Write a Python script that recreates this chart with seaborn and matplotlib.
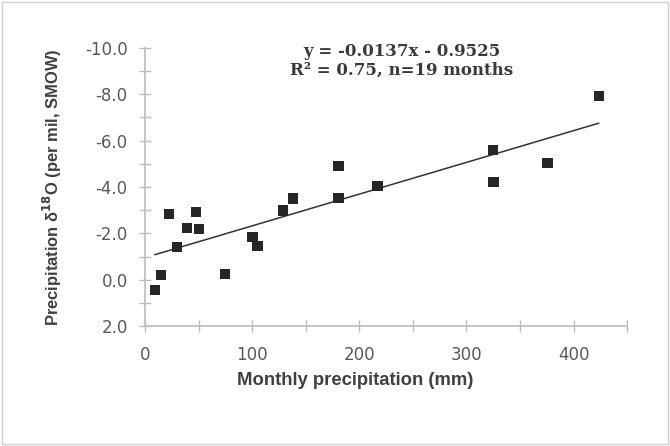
import numpy as np
import pandas as pd
import matplotlib
matplotlib.use('Agg')
import matplotlib.pyplot as plt
import seaborn as sns
from matplotlib.patches import Rectangle
from matplotlib.ticker import MultipleLocator, FormatStrFormatter

# Monthly precipitation (mm) and d18O of precipitation (per mil, SMOW)
precip_mm = [9.1, 14.7, 22.4, 29.6, 39.5, 47.4, 50.5, 74.8, 100.3, 105.0,
             129.0, 138.3, 180.7, 180.7, 217.0, 324.6, 325.2, 375.7, 423.6]
d18o = [0.45, -0.2, -2.82, -1.42, -2.22, -2.93, -2.19, -0.24, -1.83, -1.45,
        -2.98, -3.51, -4.91, -3.54, -4.04, -5.6, -4.23, -5.05, -7.93]

# trend line from the chart label
slope = -0.0137
intercept = -0.9525
r2 = 0.75

df = pd.DataFrame({'precip': precip_mm, 'd18o': d18o})
x_fit = np.array([min(precip_mm), max(precip_mm)])
fit_df = pd.DataFrame({'precip': x_fit, 'd18o': slope * x_fit + intercept})

sns.set_style('white')
fig = plt.figure(figsize=(6.7, 4.46), dpi=100)
ax = fig.add_axes([0.2164, 0.269, 0.7196, 0.6234])

sns.lineplot(x='precip', y='d18o', data=fit_df, ax=ax, color='#333333', lw=1.1)
sns.scatterplot(x='precip', y='d18o', data=df, ax=ax, marker='s', s=55,
                color='#262626', edgecolor='none', zorder=3)

ax.set_xlim(0, 450)
ax.set_ylim(2.0, -10.0)
ax.xaxis.set_major_locator(MultipleLocator(100))
ax.xaxis.set_minor_locator(MultipleLocator(50))
ax.yaxis.set_major_locator(MultipleLocator(2))
ax.yaxis.set_minor_locator(MultipleLocator(1))
ax.yaxis.set_major_formatter(FormatStrFormatter('%.1f'))

for side in ['top', 'right']:
    ax.spines[side].set_visible(False)
for side in ['left', 'bottom']:
    ax.spines[side].set_color('#bdbdbd')
    ax.spines[side].set_linewidth(1.2)

ax.tick_params(which='both', bottom=True, left=True, direction='inout', length=9,
               width=1.0, color='#bdbdbd', labelsize=12, labelcolor='#595959')
ax.tick_params(axis='y', pad=8)
ax.tick_params(axis='x', pad=10)
for lab in ax.get_xticklabels() + ax.get_yticklabels():
    lab.set_family('DejaVu Sans')

ax.set_xlabel('Monthly precipitation (mm)', fontsize=13.3, fontweight='bold',
              color='#404040', family='Liberation Sans')
ax.xaxis.set_label_coords(0.435, -0.165)
ax.set_ylabel(r'Precipitation δ$^{\mathbf{18}}$O (per mil, SMOW)', fontsize=11.9,
              fontweight='bold', color='#404040', family='Liberation Sans')
ax.yaxis.set_label_coords(-0.168, 0.5)

ax.text(0.533, 0.955, f'y = {slope}x - {abs(intercept)}\nR² = {r2}, n={len(precip_mm)} months',
        transform=ax.transAxes, ha='center', va='center', fontsize=12,
        family='DejaVu Serif', fontweight='bold', color='#3a3a3a', linespacing=1.1)

fig.patches.append(Rectangle((0.003, 0.005), 0.994, 0.99, transform=fig.transFigure,
                             fill=False, edgecolor='#cfcfcf', lw=1.0))

fig.savefig('out.png', dpi=100)
